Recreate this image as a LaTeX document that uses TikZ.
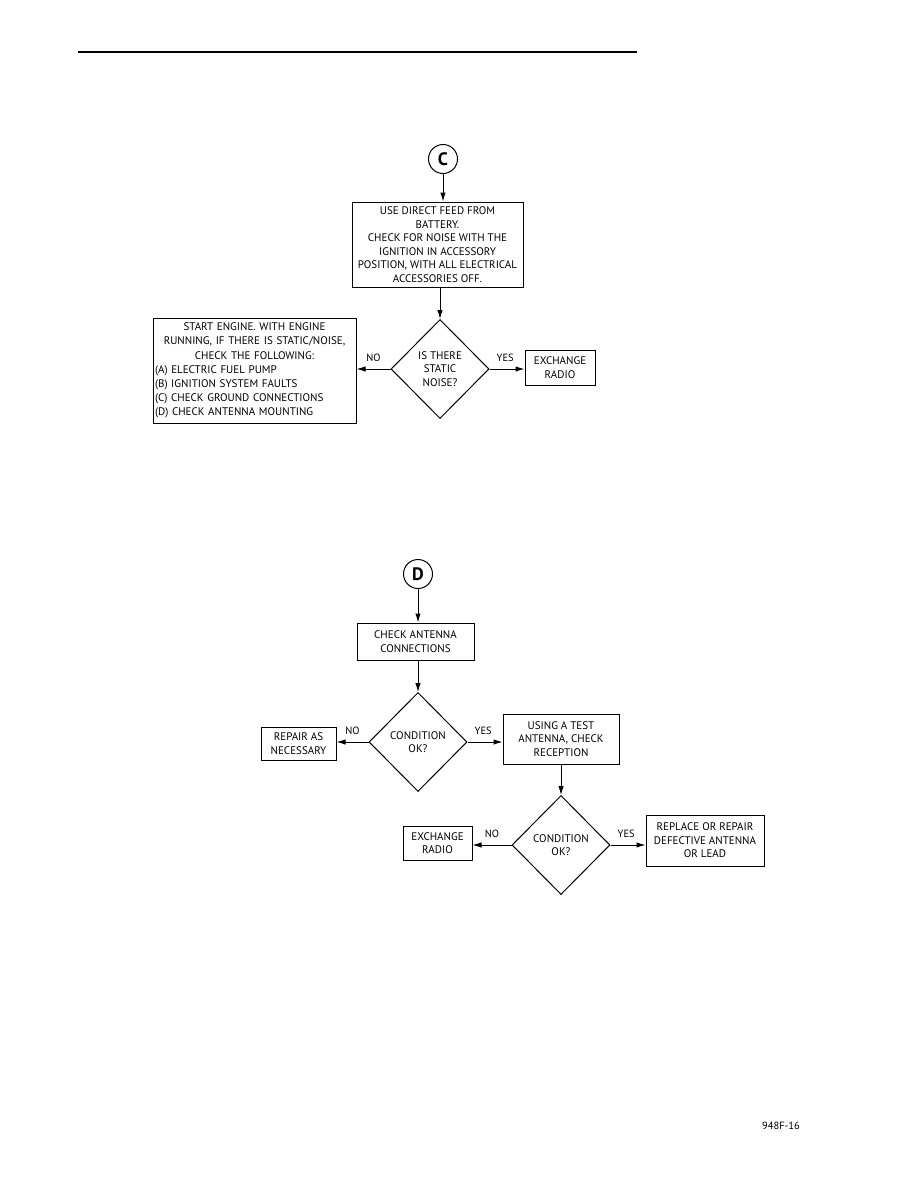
\documentclass[tikz,border=0pt]{standalone}
\usepackage{fontspec}
\setmainfont{PT Sans}
\usetikzlibrary{shapes.geometric,arrows.meta}
\tikzset{
  every node/.style={font=\fontsize{11}{13.5}\selectfont},
  flowbox/.style={draw,line width=1pt,rectangle,inner sep=1pt,align=center},
  decision/.style={draw,line width=1pt,diamond,inner sep=0pt,minimum width=98pt,minimum height=99pt,align=center},
  connector/.style={draw,line width=1pt,circle,inner sep=0pt,minimum size=29pt,font=\bfseries\fontsize{18}{18}\selectfont},
  flow/.style={line width=1pt,-{Latex[length=9pt,width=5.5pt]}},
  branch/.style={font=\fontsize{10.5}{11}\selectfont,inner sep=0pt}
}
\begin{document}
\begin{tikzpicture}[x=1pt,y=-1pt]
\useasboundingbox (0,0) rectangle (918,1188);
\draw[line width=2.6pt] (78,52) -- (637,52);

% ---- section C ----
\node[connector] (C) at (443,159) {C};
\node[flowbox,minimum width=171pt,minimum height=85pt] (b1) at (437.5,244.5)
  {USE DIRECT FEED FROM\\BATTERY.\\CHECK FOR NOISE WITH THE\\IGNITION IN ACCESSORY\\POSITION, WITH ALL ELECTRICAL\\ACCESSORIES OFF.};
\node[decision] (d1) at (440,369) {IS THERE\\STATIC\\NOISE?};
\node[flowbox,minimum width=203pt,minimum height=105pt,text width=199pt,align=left,
  font=\fontsize{11}{14.2}\selectfont] (lb) at (254.5,370.5)
  {\centering START ENGINE. WITH ENGINE\\RUNNING, IF THERE IS STATIC/NOISE,\\CHECK THE FOLLOWING:\par
   \raggedright (A) ELECTRIC FUEL PUMP\\(B) IGNITION SYSTEM FAULTS\\(C) CHECK GROUND CONNECTIONS\\(D) CHECK ANTENNA MOUNTING\par};
\node[flowbox,minimum width=70pt,minimum height=35pt] (x1) at (560,367.5) {EXCHANGE\\RADIO};

\draw[flow] (C.south) -- (C.south |- b1.north);
\draw[flow] (d1.north |- b1.south) -- (d1.north);
\draw[flow] (d1.west) -- (d1.west -| lb.east) node[branch,pos=0.5,above=7pt] (no1) {NO};
\draw[flow] (d1.east) -- (d1.east -| x1.west) node[branch,pos=0.45,above=7pt] (yes1) {YES};

% ---- section D ----
\node[connector] (D) at (418,574) {D};
\node[flowbox,minimum width=117pt,minimum height=37pt] (b2) at (415.5,641.5) {CHECK ANTENNA\\CONNECTIONS};
\node[decision] (d2) at (418,742) {CONDITION\\OK?};
\node[flowbox,minimum width=75pt,minimum height=33pt] (rp) at (298.5,743.5) {REPAIR AS\\NECESSARY};
\node[flowbox,minimum width=116pt,minimum height=50pt] (b3) at (561,739) {USING A TEST\\ANTENNA, CHECK\\RECEPTION};
\node[decision] (d3) at (561,845) {CONDITION\\OK?};
\node[flowbox,minimum width=69pt,minimum height=34pt] (x2) at (437.5,843) {EXCHANGE\\RADIO};
\node[flowbox,minimum width=118pt,minimum height=51pt] (rr) at (705,840.5) {REPLACE OR REPAIR\\DEFECTIVE ANTENNA\\OR LEAD};

\draw[flow] (D.south) -- (D.south |- b2.north);
\draw[flow] (d2.north |- b2.south) -- (d2.north);
\draw[flow] (d2.west) -- (d2.west -| rp.east) node[branch,pos=0.5,above=7pt] (no2) {NO};
\draw[flow] (d2.east) -- (d2.east -| b3.west) node[branch,pos=0.45,above=7pt] (yes2) {YES};
\draw[flow] (d3.north |- b3.south) -- (d3.north);
\draw[flow] (d3.west) -- (d3.west -| x2.east) node[branch,pos=0.5,above=7pt] (no3) {NO};
\draw[flow] (d3.east) -- (d3.east -| rr.west) node[branch,pos=0.45,above=7pt] (yes3) {YES};

\node[font=\fontsize{10.5}{11}\selectfont] (fig) at (781,1126) {948F-16};
\end{tikzpicture}
\end{document}
